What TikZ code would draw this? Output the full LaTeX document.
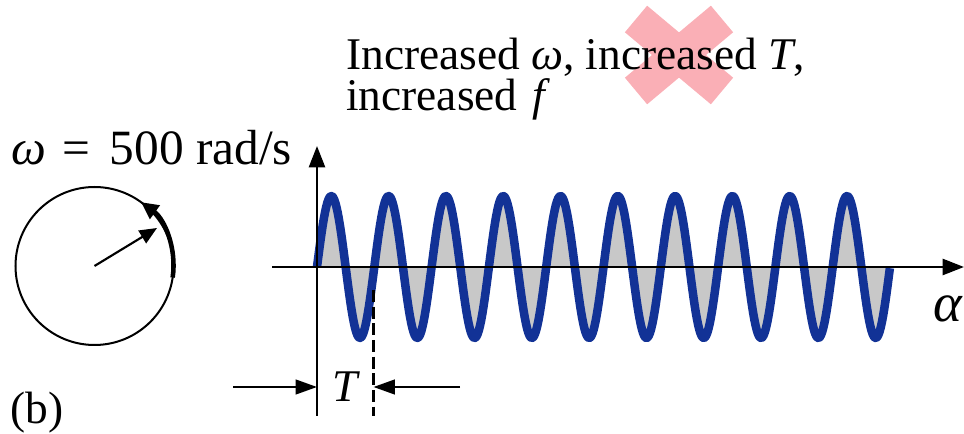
\documentclass[tikz,border=0pt]{standalone}
\usepackage{fontspec}
\setmainfont{Liberation Serif}
\usetikzlibrary{arrows.meta}
\definecolor{waveblue}{RGB}{18,50,150}
\definecolor{wavegray}{RGB}{200,200,200}
\definecolor{xpink}{RGB}{250,175,182}
\tikzset{
  txt/.style={inner sep=0pt, font=\rmfamily\fontsize{34}{30}\selectfont},
  axisline/.style={line width=1.9pt, -{Triangle[length=16pt,width=12pt]}},
  dimarrow/.style={line width=1.6pt, -{Triangle[length=16pt,width=11pt]}},
  thinline/.style={line width=1.6pt},
  crossbar/.style={xpink, line width=26pt},
}
\begin{document}
\begin{tikzpicture}[x=0.75pt,y=-0.75pt]
\useasboundingbox (0,0) rectangle (964,434);
% red cross
\coordinate (xa) at (636,19);
\coordinate (xb) at (722,91);
\coordinate (xc) at (722,19);
\coordinate (xd) at (636,91);
\draw[crossbar] (xa) -- (xb);
\draw[crossbar] (xc) -- (xd);
% texts
\node[txt, anchor=base west] (title1) at (346,70) {Increased \textit{ω}, increased \textit{T},};
\node[txt, anchor=base west] (title2) at (346,111) {increased\hspace{3pt} \textit{f}};
\node[txt, anchor=base west, font=\rmfamily\fontsize{37}{30}\selectfont] (omega) at (11,165) {\textit{ω}\hspace{12pt}=\hspace{15pt}500 rad/s};
\node[txt, anchor=base west] (blabel) at (10,424) {(b)};
\node[txt, anchor=base] (Tlabel) at (346,401.5) {\textit{T}};
\node[txt, anchor=base west, font=\rmfamily\fontsize{41}{40}\selectfont] (alpha) at (933,322) {\textit{α}};
% circle
\coordinate (cc) at (94.5,266);
\node[circle, draw, line width=1.5pt, minimum size=118.5pt, inner sep=0pt] (circ) at (cc) {};
\coordinate (rtip) at (157,228);
\draw[line width=1.6pt, -{Triangle[length=13pt,width=11pt]}] (cc) -- (rtip);
\draw[line width=3.4pt, -{Triangle[length=13pt,width=12pt]}] ([shift={(8.4:79)}]cc) arc[start angle=8.4, end angle=-54, radius=79];
% wave
\fill[wavegray] (317,267) -- plot[domain=0:10, samples=500] ({317+57.3*\x}, {267 - 71*sin(360*\x)}) -- (890,267) -- cycle;
\draw[waveblue, line width=6.4pt, line join=round] plot[domain=0:10, samples=500] ({317+57.3*\x}, {267 - 71*sin(360*\x)});
% axes
\coordinate (hstart) at (272,267);
\coordinate (hend) at (964,267);
\coordinate (vbot) at (317,416);
\coordinate (vtop) at (317,146);
\draw[axisline] (hstart) -- (hend);
\draw[axisline] (vbot) -- (vtop);
% period marker
\coordinate (dtop) at (373.5,290);
\coordinate (dbot) at (373.5,416);
\draw[thinline, dash pattern=on 9pt off 3.5pt] (dtop) -- (dbot);
\coordinate (lt) at (233,387);
\coordinate (la) at (317,387);
\coordinate (rt) at (460,387);
\coordinate (ra) at (373.5,387);
\draw[dimarrow] (lt) -- (la);
\draw[dimarrow] (rt) -- (ra);
\end{tikzpicture}
\end{document}
